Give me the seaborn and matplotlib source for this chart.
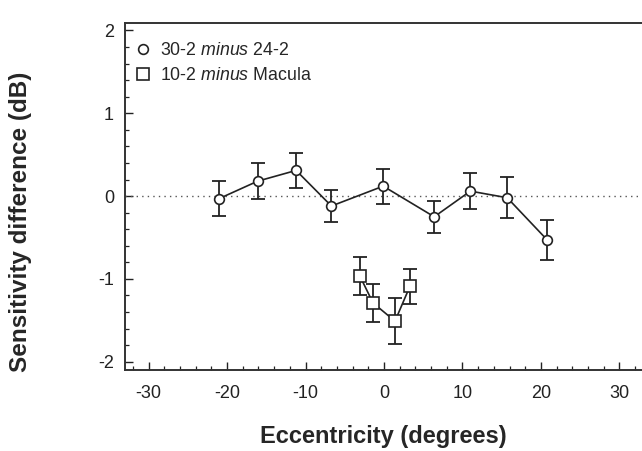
import matplotlib
matplotlib.use("Agg")
import matplotlib.pyplot as plt
from matplotlib.lines import Line2D
from matplotlib.ticker import MultipleLocator
import seaborn as sns
import pandas as pd

# 30-2 minus 24-2
ecc_30 = [-21.0, -16.1, -11.2, -6.7, -0.1, 6.4, 11.0, 15.7, 20.8]
diff_30 = [-0.03, 0.18, 0.31, -0.12, 0.12, -0.25, 0.06, -0.02, -0.53]
err_30 = [0.21, 0.22, 0.21, 0.19, 0.21, 0.19, 0.22, 0.25, 0.24]

# 10-2 minus Macula
ecc_10 = [-3.1, -1.4, 1.4, 3.3]
diff_10 = [-0.96, -1.29, -1.51, -1.09]
err_10 = [0.23, 0.23, 0.28, 0.21]

labels = [r"30-2 $\it{minus}$ 24-2", r"10-2 $\it{minus}$ Macula"]
x_ticks = [-30, -20, -10, 0, 10, 20, 30]
y_ticks = [-2, -1, 0, 1, 2]

sns.set_style("ticks")
plt.rcParams['font.family'] = ['Liberation Sans', 'DejaVu Sans']
plt.rcParams['mathtext.fontset'] = 'custom'
plt.rcParams['mathtext.rm'] = 'Liberation Sans'
plt.rcParams['mathtext.it'] = 'Liberation Sans:italic'

df30 = pd.DataFrame({'ecc': ecc_30, 'diff': diff_30})
df10 = pd.DataFrame({'ecc': ecc_10, 'diff': diff_10})

fig = plt.figure(figsize=(6.42, 4.51), dpi=100)
ax = fig.add_axes([125 / 642, 1 - 370 / 451, 518 / 642, 347 / 451])

ax.axhline(0, color='#555555', lw=1.0, ls=(0, (1, 3)), zorder=1)

ax.errorbar(ecc_30, diff_30, yerr=err_30, fmt='none', ecolor='#222222',
            elinewidth=1.3, capsize=5, capthick=1.3, zorder=2)
ax.errorbar(ecc_10, diff_10, yerr=err_10, fmt='none', ecolor='#222222',
            elinewidth=1.3, capsize=5, capthick=1.3, zorder=2)

sns.lineplot(data=df30, x='ecc', y='diff', ax=ax, color='#222222', lw=1.2,
             marker='o', markersize=7, markerfacecolor='white',
             markeredgecolor='#222222', markeredgewidth=1.2, zorder=3)
sns.lineplot(data=df10, x='ecc', y='diff', ax=ax, color='#222222', lw=1.2,
             marker='s', markersize=9, markerfacecolor='white',
             markeredgecolor='#222222', markeredgewidth=1.2, zorder=3)

ax.set_xlim(-33, 33)
ax.set_ylim(-2.1, 2.09)
ax.set_xticks(x_ticks)
ax.set_yticks(y_ticks)
ax.xaxis.set_minor_locator(MultipleLocator(2))
ax.yaxis.set_minor_locator(MultipleLocator(0.2))
ax.tick_params(which='major', direction='in', length=6, width=1.0,
               labelsize=13, colors='#222222')
ax.tick_params(which='minor', direction='in', length=3, width=0.9, colors='#222222')
ax.tick_params(axis='x', which='major', pad=11)
ax.tick_params(axis='y', which='major', pad=8)
ax.set_yticklabels([str(v) for v in y_ticks])
ax.set_xticklabels([str(v) for v in x_ticks])

for side in ['left', 'bottom', 'top']:
    ax.spines[side].set_linewidth(1.4)
    ax.spines[side].set_color('#333333')
ax.spines['right'].set_visible(False)

ax.set_xlabel('Eccentricity (degrees)', fontsize=17, fontweight='bold', va='center')
ax.set_ylabel('Sensitivity difference (dB)', fontsize=17.5, fontweight='bold', va='center')
ax.xaxis.set_label_coords((383 - 125) / 518, (370 - 436) / 347)
ax.yaxis.set_label_coords((21 - 125) / 518, (370 - 222) / 347)

handles = [
    Line2D([], [], ls='none', marker='o', markersize=7, markerfacecolor='white',
           markeredgecolor='#222222', markeredgewidth=1.2),
    Line2D([], [], ls='none', marker='s', markersize=8, markerfacecolor='white',
           markeredgecolor='#222222', markeredgewidth=1.2),
]
ax.legend(handles, labels, loc='upper left', frameon=False, fontsize=12.8,
          handletextpad=0.45, borderaxespad=0.5, labelspacing=0.45,
          handlelength=1.0, bbox_to_anchor=(-0.013, 0.99))

fig.savefig('out.png', dpi=100)
